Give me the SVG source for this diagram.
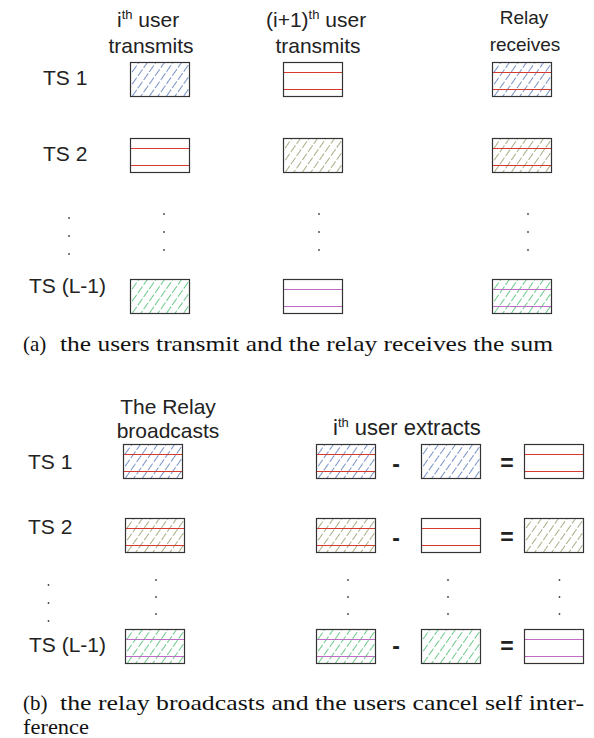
<svg xmlns="http://www.w3.org/2000/svg" xmlns:xlink="http://www.w3.org/1999/xlink" width="594" height="738" viewBox="0 0 594 738">
  <style>
    .lbl { font-family: "Liberation Sans", Arial, sans-serif; font-size: 21px; fill: #222; }
    .sm { font-size: 19px; }
    .sup { font-size: 13px; }
    .op { font-family: "Liberation Sans", Arial, sans-serif; font-size: 23px; font-weight: bold; fill: #222; text-anchor: middle; }
    .cap { font-family: "Liberation Serif", "Times New Roman", serif; font-size: 21px; fill: #111; }
    .frame { fill: none; stroke: #333; stroke-width: 1.2; }
    .red { stroke: #d63a2e; stroke-width: 1.1; }
    .pur { stroke: #bf6cc4; stroke-width: 1.1; }
    .dot { fill: #444; }
  </style>
  <defs>
    <!-- diagonal dashed hatching, one per signal -->
    <pattern id="hBlue" patternUnits="userSpaceOnUse" width="7" height="10" patternTransform="rotate(35)">
      <line x1="0" y1="0" x2="0" y2="10" stroke="#4a6fb5" stroke-width="1.5" stroke-dasharray="7 2"/>
    </pattern>
    <pattern id="hOlive" patternUnits="userSpaceOnUse" width="7" height="10" patternTransform="rotate(35)">
      <line x1="0" y1="0" x2="0" y2="10" stroke="#8c945c" stroke-width="1.5" stroke-dasharray="7 2"/>
    </pattern>
    <pattern id="hGreen" patternUnits="userSpaceOnUse" width="7" height="10" patternTransform="rotate(35)">
      <line x1="0" y1="0" x2="0" y2="10" stroke="#3cb865" stroke-width="1.5" stroke-dasharray="7 2"/>
    </pattern>

    <!-- slot boxes: 60 x 35 px -->
    <g id="bBlue">
      <rect width="60" height="35" fill="#fff"/>
      <rect width="60" height="35" fill="url(#hBlue)"/>
      <rect x="0.5" y="0.5" width="59" height="34" class="frame"/>
    </g>
    <g id="bOlive">
      <rect width="60" height="35" fill="#fff"/>
      <rect width="60" height="35" fill="url(#hOlive)"/>
      <rect x="0.5" y="0.5" width="59" height="34" class="frame"/>
    </g>
    <g id="bGreen">
      <rect width="60" height="35" fill="#fff"/>
      <rect width="60" height="35" fill="url(#hGreen)"/>
      <rect x="0.5" y="0.5" width="59" height="34" class="frame"/>
    </g>
    <g id="bRed">
      <rect width="60" height="35" fill="#fff"/>
      <line x1="0.5" y1="10.5" x2="59.5" y2="10.5" class="red"/>
      <line x1="0.5" y1="27.5" x2="59.5" y2="27.5" class="red"/>
      <rect x="0.5" y="0.5" width="59" height="34" class="frame"/>
    </g>
    <g id="bPur">
      <rect width="60" height="35" fill="#fff"/>
      <line x1="0.5" y1="10.5" x2="59.5" y2="10.5" class="pur"/>
      <line x1="0.5" y1="27.5" x2="59.5" y2="27.5" class="pur"/>
      <rect x="0.5" y="0.5" width="59" height="34" class="frame"/>
    </g>
    <g id="bBlueRed">
      <rect width="60" height="35" fill="#fff"/>
      <rect width="60" height="35" fill="url(#hBlue)"/>
      <line x1="0.5" y1="10.5" x2="59.5" y2="10.5" class="red"/>
      <line x1="0.5" y1="27.5" x2="59.5" y2="27.5" class="red"/>
      <rect x="0.5" y="0.5" width="59" height="34" class="frame"/>
    </g>
    <g id="bOliveRed">
      <rect width="60" height="35" fill="#fff"/>
      <rect width="60" height="35" fill="url(#hOlive)"/>
      <line x1="0.5" y1="10.5" x2="59.5" y2="10.5" class="red"/>
      <line x1="0.5" y1="27.5" x2="59.5" y2="27.5" class="red"/>
      <rect x="0.5" y="0.5" width="59" height="34" class="frame"/>
    </g>
    <g id="bGreenPur">
      <rect width="60" height="35" fill="#fff"/>
      <rect width="60" height="35" fill="url(#hGreen)"/>
      <line x1="0.5" y1="10.5" x2="59.5" y2="10.5" class="pur"/>
      <line x1="0.5" y1="27.5" x2="59.5" y2="27.5" class="pur"/>
      <rect x="0.5" y="0.5" width="59" height="34" class="frame"/>
    </g>
  </defs>

  <rect width="594" height="738" fill="#fff"/>

  <!-- ===== (a) uplink: users transmit, relay receives ===== -->
  <g id="a-headers">
    <text class="lbl" x="117" y="27">i<tspan class="sup" dy="-8">th</tspan><tspan dy="8"> user</tspan></text>
    <text class="lbl" x="151" y="53" text-anchor="middle">transmits</text>
    <text class="lbl" x="266" y="27">(i+1)<tspan class="sup" dy="-8">th</tspan><tspan dy="8"> user</tspan></text>
    <text class="lbl" x="318" y="53" text-anchor="middle">transmits</text>
    <text class="lbl sm" x="524" y="24" text-anchor="middle">Relay</text>
    <text class="lbl sm" x="525" y="51" text-anchor="middle">receives</text>
  </g>
  <g id="a-slots">
    <text class="lbl" x="43" y="85">TS 1</text>
    <text class="lbl" x="43" y="161">TS 2</text>
    <text class="lbl" x="29" y="293">TS (L-1)</text>
  </g>
  <g id="a-ts1">
    <use xlink:href="#bBlue" x="130" y="62"/>
    <use xlink:href="#bRed" x="283" y="62"/>
    <use xlink:href="#bBlueRed" x="492" y="62"/>
  </g>
  <g id="a-ts2">
    <use xlink:href="#bRed" x="130" y="138"/>
    <use xlink:href="#bOlive" x="283" y="138"/>
    <use xlink:href="#bOliveRed" x="492" y="138"/>
  </g>
  <g id="a-tsl1">
    <use xlink:href="#bGreen" x="130" y="279"/>
    <use xlink:href="#bPur" x="283" y="279"/>
    <use xlink:href="#bGreenPur" x="492" y="279"/>
  </g>
  <g id="a-dots">
    <circle class="dot" cx="69" cy="218" r="0.9"/>
    <circle class="dot" cx="69" cy="236" r="0.9"/>
    <circle class="dot" cx="69" cy="254" r="0.9"/>
    <circle class="dot" cx="164" cy="214" r="0.9"/>
    <circle class="dot" cx="164" cy="232" r="0.9"/>
    <circle class="dot" cx="164" cy="250" r="0.9"/>
    <circle class="dot" cx="319" cy="214" r="0.9"/>
    <circle class="dot" cx="319" cy="232" r="0.9"/>
    <circle class="dot" cx="319" cy="250" r="0.9"/>
    <circle class="dot" cx="528" cy="214" r="0.9"/>
    <circle class="dot" cx="528" cy="232" r="0.9"/>
    <circle class="dot" cx="528" cy="250" r="0.9"/>
  </g>
  <g id="a-caption">
    <text class="cap" x="23" y="351">(a)</text>
    <text class="cap" x="60" y="351" textLength="493" lengthAdjust="spacingAndGlyphs">the users transmit and the relay receives the sum</text>
  </g>

  <!-- ===== (b) downlink: relay broadcasts, user cancels own signal ===== -->
  <g id="b-headers">
    <text class="lbl" x="168" y="414" text-anchor="middle">The Relay</text>
    <text class="lbl" x="168" y="438" text-anchor="middle">broadcasts</text>
    <text class="lbl" x="333" y="435" style="font-size:22px">i<tspan class="sup" dy="-8">th</tspan><tspan dy="8"> user extracts</tspan></text>
  </g>
  <g id="b-slots">
    <text class="lbl" x="28" y="469">TS 1</text>
    <text class="lbl" x="28" y="534">TS 2</text>
    <text class="lbl" x="29" y="652">TS (L-1)</text>
  </g>
  <g id="b-ts1">
    <use xlink:href="#bBlueRed" x="123" y="444"/>
    <use xlink:href="#bBlueRed" x="316" y="444"/>
    <text class="op" x="396" y="472">-</text>
    <use xlink:href="#bBlue" x="421" y="444"/>
    <text class="op" x="507" y="471">=</text>
    <use xlink:href="#bRed" x="524" y="444"/>
  </g>
  <g id="b-ts2">
    <use xlink:href="#bOliveRed" x="125" y="518"/>
    <use xlink:href="#bOliveRed" x="316" y="518"/>
    <text class="op" x="396" y="546">-</text>
    <use xlink:href="#bRed" x="421" y="518"/>
    <text class="op" x="507" y="545">=</text>
    <use xlink:href="#bOlive" x="524" y="518"/>
  </g>
  <g id="b-tsl1">
    <use xlink:href="#bGreenPur" x="125" y="629"/>
    <use xlink:href="#bGreenPur" x="316" y="629"/>
    <text class="op" x="396" y="654">-</text>
    <use xlink:href="#bGreen" x="421" y="629"/>
    <text class="op" x="507" y="654">=</text>
    <use xlink:href="#bPur" x="524" y="629"/>
  </g>
  <g id="b-dots">
    <circle class="dot" cx="48.5" cy="585" r="0.9"/>
    <circle class="dot" cx="48.5" cy="603" r="0.9"/>
    <circle class="dot" cx="48.5" cy="621" r="0.9"/>
    <circle class="dot" cx="156" cy="580" r="0.9"/>
    <circle class="dot" cx="156" cy="597" r="0.9"/>
    <circle class="dot" cx="156" cy="614" r="0.9"/>
    <circle class="dot" cx="348" cy="580" r="0.9"/>
    <circle class="dot" cx="348" cy="597" r="0.9"/>
    <circle class="dot" cx="348" cy="614" r="0.9"/>
    <circle class="dot" cx="448" cy="580" r="0.9"/>
    <circle class="dot" cx="448" cy="597" r="0.9"/>
    <circle class="dot" cx="448" cy="614" r="0.9"/>
    <circle class="dot" cx="559.5" cy="580" r="0.9"/>
    <circle class="dot" cx="559.5" cy="597" r="0.9"/>
    <circle class="dot" cx="559.5" cy="614" r="0.9"/>
  </g>
  <g id="b-caption">
    <text class="cap" x="23" y="710">(b)</text>
    <text class="cap" x="60" y="710" textLength="524" lengthAdjust="spacingAndGlyphs">the relay broadcasts and the users cancel self inter-</text>
    <text class="cap" x="23" y="734" textLength="66" lengthAdjust="spacingAndGlyphs">ference</text>
  </g>
</svg>
